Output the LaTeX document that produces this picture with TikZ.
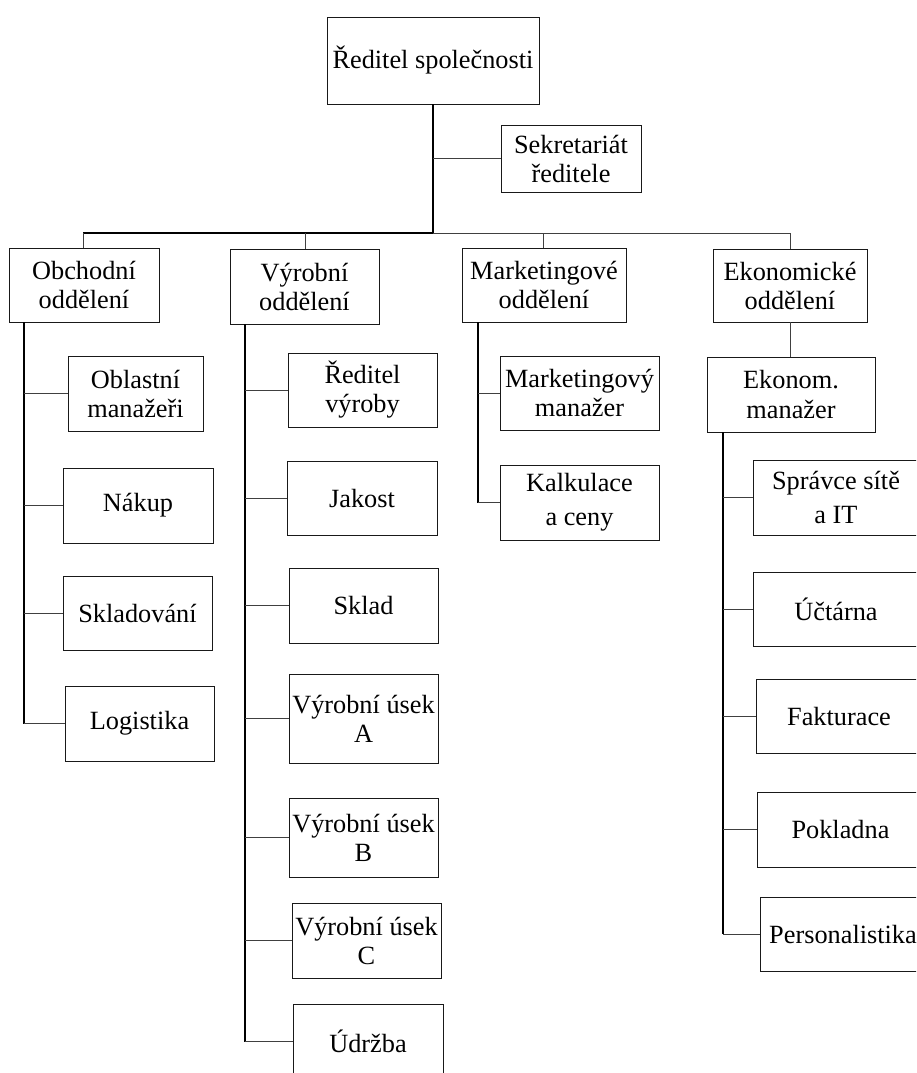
\documentclass[tikz,border=0pt]{standalone}
\usepackage{fontspec}
\setmainfont{Liberation Serif}
\begin{document}
\begin{tikzpicture}[x=1pt,y=-1pt,
  box/.style={draw=black!90, line width=0.9pt, inner sep=0pt, align=center,
    font=\fontsize{26.3}{29}\selectfont},
  wide/.style={font=\fontsize{26.3}{34}\selectfont},
  spine/.style={draw=black, line width=1.5pt},
  branch/.style={draw=black!75, line width=1pt}]
\useasboundingbox (0,0) rectangle (916,1073);
\clip (0,0) rectangle (916,1073);
% top level
\node[box, minimum width=212pt, minimum height=87pt] (top) at (433,60.5) {Ředitel společnosti};
\node[box, minimum width=140pt, minimum height=67pt] (sek) at (571,158.5) {Sekretariát\\ředitele};
% departments
\node[box, minimum width=150pt, minimum height=74pt] (obch) at (84,285) {Obchodní\\oddělení};
\node[box, minimum width=149pt, minimum height=75pt] (vyr) at (304.5,286.5) {Výrobní\\oddělení};
\node[box, minimum width=164pt, minimum height=74pt] (mark) at (544,285) {Marketingové\\oddělení};
\node[box, minimum width=154pt, minimum height=73pt] (ekon) at (790,285.5) {Ekonomické\\oddělení};
% obchodni
\node[box, minimum width=135pt, minimum height=75pt] (obl) at (135.5,393.5) {Oblastní\\manažeři};
\node[box, minimum width=150pt, minimum height=75pt] (nakup) at (138,505.5) {Nákup};
\node[box, minimum width=149pt, minimum height=74pt] (skladovani) at (137.5,613) {Skladování};
\node[box, minimum width=149pt, minimum height=75pt] (logistika) at (139.5,723.5) {Logistika};
% vyrobni
\node[box, minimum width=149pt, minimum height=74pt] (redvyr) at (362.5,390) {Ředitel\\výroby};
\node[box, minimum width=150pt, minimum height=74pt] (jakost) at (362,498) {Jakost};
\node[box, minimum width=149pt, minimum height=75pt] (sklad) at (363.5,605.5) {Sklad};
\node[box, minimum width=149pt, minimum height=89pt] (useka) at (363.5,718.5) {Výrobní úsek\\A};
\node[box, minimum width=149pt, minimum height=79pt] (usekb) at (363.5,837.5) {Výrobní úsek\\B};
\node[box, minimum width=149pt, minimum height=75pt] (usekc) at (366.5,940.5) {Výrobní úsek\\C};
\node[box, minimum width=150pt, minimum height=75pt] (udrzba) at (368,1041.5) {Údržba};
% marketing
\node[box, minimum width=159pt, minimum height=74pt] (markman) at (579.5,393) {Marketingový\\manažer};
\node[box, wide, minimum width=159pt, minimum height=75pt] (kalk) at (579.5,502.5) {Kalkulace\\a ceny};
% ekonomicke
\node[box, minimum width=168pt, minimum height=75pt] (ekman) at (791,394.5) {Ekonom.\\manažer};
\node[box, wide, minimum width=166pt, minimum height=75pt] (spravce) at (836,497.5) {Správce sítě\\a IT};
\node[box, minimum width=166pt, minimum height=74pt] (uctarna) at (836,609) {Účtárna};
\node[box, minimum width=166pt, minimum height=74pt] (fakturace) at (839,716) {Fakturace};
\node[box, minimum width=167pt, minimum height=75pt] (pokladna) at (840.5,829.5) {Pokladna};
\node[box, minimum width=166pt, minimum height=74pt] (personal) at (843,934) {Personalistika};
% coordinates
\coordinate (bus) at (433,233);
\coordinate (busl) at (83,233);
\coordinate (busr) at (790,233);
\coordinate (sobch) at (24,0);
\coordinate (svyr) at (245,0);
\coordinate (smark) at (478,0);
\coordinate (sek2) at (723,0);
% top connections
\draw[spine] (top.south) -- (bus);
\draw[branch] (top.south |- sek.west) -- (sek.west);
\draw[spine] (busl) -- (bus);
\draw[branch] (bus) -- (busr);
\draw[branch] (busl) -- (busl |- obch.north);
\draw[branch] (vyr.north -| 305,0) -- (305,233);
\draw[branch] (mark.north -| 543,0) -- (543,233);
\draw[branch] (busr) -- (busr |- ekon.north);
\draw[branch] (ekon.south -| busr) -- (busr |- ekman.north);
% obchodni
\draw[spine] (sobch |- obch.south) -- (sobch |- logistika.west);
\foreach \n in {obl,nakup,skladovani,logistika}
  \draw[branch] (sobch |- \n.west) -- (\n.west);
% vyrobni
\draw[spine] (svyr |- vyr.south) -- (svyr |- udrzba.west);
\foreach \n in {redvyr,jakost,sklad,useka,usekb,usekc,udrzba}
  \draw[branch] (svyr |- \n.west) -- (\n.west);
% marketing
\draw[spine] (smark |- mark.south) -- (smark |- kalk.west);
\foreach \n in {markman,kalk}
  \draw[branch] (smark |- \n.west) -- (\n.west);
% ekonomicke
\draw[spine] (sek2 |- ekman.south) -- (sek2 |- personal.west);
\foreach \n in {spravce,uctarna,fakturace,pokladna,personal}
  \draw[branch] (sek2 |- \n.west) -- (\n.west);
\end{tikzpicture}
\end{document}
